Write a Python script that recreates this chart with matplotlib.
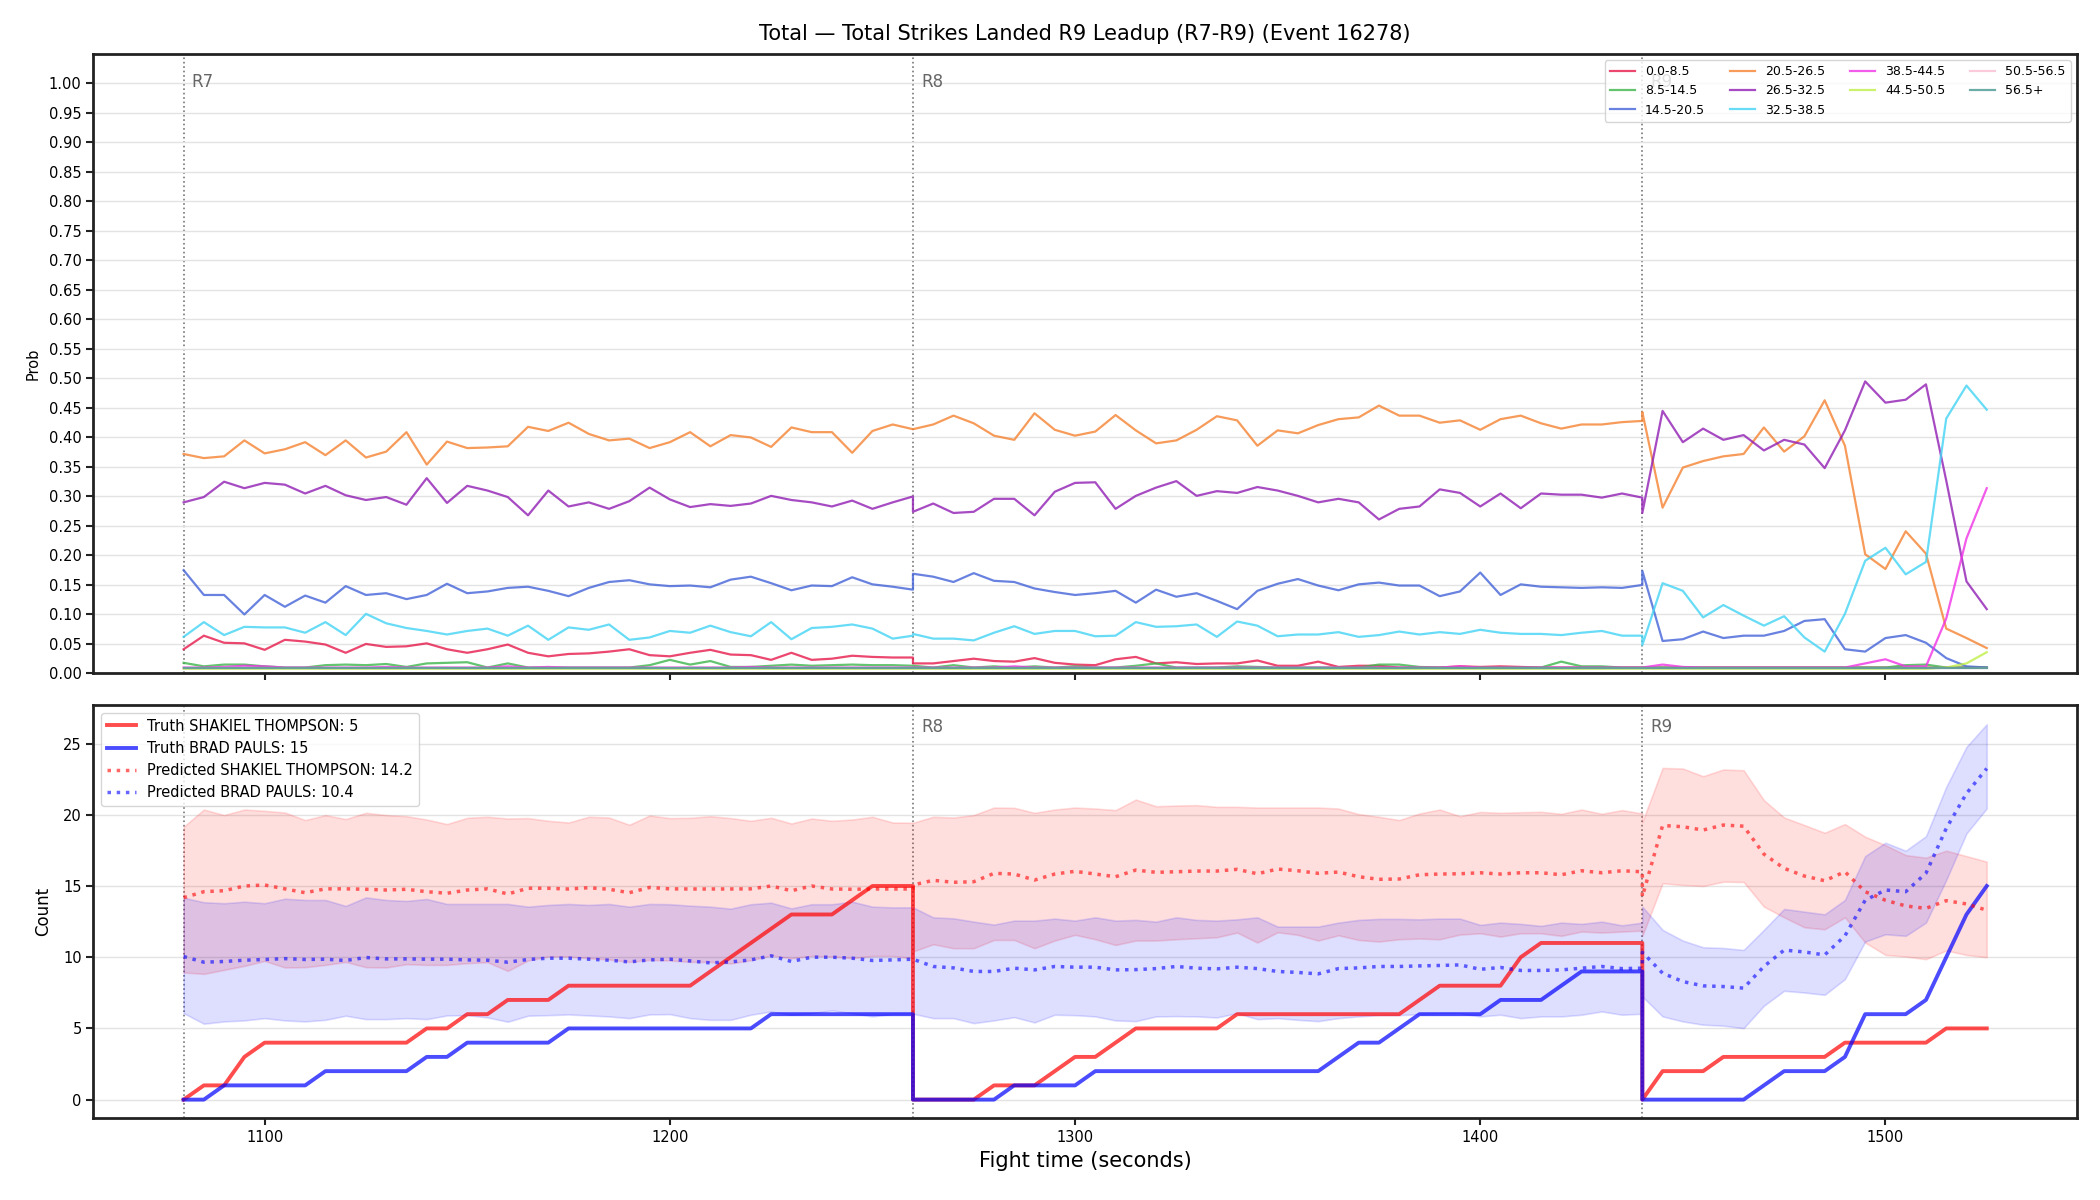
import numpy as np
import matplotlib
matplotlib.use("Agg")
import matplotlib.pyplot as plt

# ---------------- data ----------------
round_starts = [1080, 1260, 1440]
round_names = ["R7", "R8", "R9"]
step = 5
t_r7 = np.arange(1080, 1260 + 1, step)
t_r8 = np.arange(1260, 1440 + 1, step)
t_r9 = np.arange(1440, 1525 + 1, step)
times = np.concatenate([t_r7, t_r8, t_r9])

bucket_labels = ["0.0-8.5", "8.5-14.5", "14.5-20.5", "20.5-26.5", "26.5-32.5",
                 "32.5-38.5", "38.5-44.5", "44.5-50.5", "50.5-56.5", "56.5+"]
bucket_colors = ["#e6194b", "#3cb44b", "#4363d8", "#f58231", "#911eb4",
                 "#42d4f4", "#f032e6", "#bfef45", "#fabed4", "#469990"]

p_0_8 = [.041, .064, .052, .051, .040, .057, .054, .049, .035, .050,
         .045, .046, .051, .041, .035, .041, .049, .035, .029, .033,
         .034, .037, .041, .031, .029, .035, .040, .032, .031, .023,
         .035, .023, .025, .030, .028, .027, .027,
         .017, .017, .021, .025, .021, .020, .026, .018, .015, .014,
         .024, .028, .017, .019, .016, .017, .017, .022, .013, .013,
         .020, .011, .013, .013, .010, .010, .010, .012, .011, .012,
         .011, .010, .010, .010, .010, .010, .010,
         .010, .010, .010, .010, .010, .010, .010, .010, .010, .010,
         .010, .010, .010, .010, .010, .010, .010, .010]
p_8_14 = [.018, .012, .015, .015, .012, .010, .010, .014, .015, .014,
          .016, .011, .017, .018, .019, .010, .017, .010, .010, .010,
          .010, .010, .010, .014, .023, .015, .021, .011, .011, .013,
          .015, .013, .014, .015, .014, .014, .013,
          .013, .010, .014, .010, .012, .010, .012, .010, .012, .010,
          .010, .013, .017, .010, .010, .010, .012, .011, .010, .010,
          .010, .010, .010, .015, .015, .011, .010, .010, .010, .010,
          .010, .010, .020, .012, .012, .010, .010,
          .010, .010, .010, .010, .010, .010, .010, .010, .010, .010,
          .010, .010, .010, .014, .015, .010, .010, .010]
p_14_20 = [.175, .133, .133, .100, .133, .113, .132, .120, .148, .133,
           .136, .126, .133, .152, .136, .139, .145, .147, .140, .131,
           .145, .155, .158, .151, .148, .149, .146, .159, .164, .153,
           .141, .149, .148, .163, .151, .147, .142,
           .169, .164, .155, .170, .157, .155, .144, .138, .133, .136,
           .140, .120, .142, .130, .136, .123, .109, .140, .152, .160,
           .149, .141, .151, .154, .149, .149, .131, .139, .171, .133,
           .151, .147, .146, .145, .146, .145, .150,
           .174, .055, .058, .071, .060, .064, .064, .072, .089, .092,
           .041, .037, .060, .065, .052, .026, .012, .010]
p_20_26 = [.372, .365, .368, .395, .373, .380, .392, .370, .395, .366,
           .376, .409, .354, .393, .382, .383, .385, .418, .411, .425,
           .406, .395, .398, .382, .392, .409, .385, .404, .400, .384,
           .417, .409, .409, .374, .411, .422, .414,
           .414, .422, .437, .424, .403, .396, .441, .413, .403, .410,
           .438, .412, .390, .395, .413, .436, .429, .386, .412, .407,
           .421, .431, .434, .454, .437, .437, .425, .429, .413, .431,
           .437, .424, .415, .422, .422, .426, .428,
           .443, .281, .349, .360, .368, .372, .417, .376, .402, .463,
           .386, .202, .177, .241, .203, .076, .060, .043]
p_26_32 = [.290, .299, .325, .314, .323, .320, .305, .318, .302, .294,
           .299, .286, .331, .289, .318, .310, .299, .268, .310, .283,
           .290, .279, .292, .315, .295, .282, .287, .284, .288, .301,
           .294, .290, .283, .293, .279, .290, .300,
           .274, .288, .272, .274, .296, .296, .268, .308, .323, .324,
           .279, .301, .315, .326, .301, .309, .306, .316, .310, .301,
           .290, .296, .290, .261, .279, .283, .312, .306, .283, .305,
           .280, .305, .303, .303, .298, .305, .298,
           .272, .445, .392, .415, .396, .404, .378, .396, .388, .348,
           .412, .495, .459, .464, .490, .327, .156, .109]
p_32_38 = [.062, .087, .065, .079, .078, .078, .069, .087, .065, .101,
           .085, .077, .072, .066, .072, .076, .064, .081, .057, .078,
           .074, .083, .057, .061, .072, .069, .081, .070, .063, .087,
           .058, .077, .079, .083, .076, .059, .064,
           .067, .059, .059, .056, .069, .080, .067, .072, .072, .063,
           .064, .087, .079, .080, .083, .062, .088, .081, .063, .066,
           .066, .070, .062, .065, .071, .066, .070, .067, .074, .069,
           .067, .067, .065, .069, .072, .064, .064,
           .048, .153, .140, .095, .116, .098, .081, .097, .061, .037,
           .101, .191, .213, .168, .189, .432, .488, .447]
p_38_44 = [.010, .010, .011, .013, .012, .010, .010, .010, .010, .010,
           .011, .010, .010, .010, .010, .010, .012, .010, .011, .010,
           .010, .010, .010, .010, .010, .010, .010, .010, .011, .010,
           .010, .010, .010, .010, .010, .010, .010,
           .010, .010, .010, .010, .010, .012, .010, .010, .010, .010,
           .010, .010, .010, .010, .010, .010, .010, .010, .010, .010,
           .010, .010, .010, .010, .010, .010, .010, .012, .010, .010,
           .010, .010, .010, .010, .010, .010, .010,
           .010, .015, .011, .010, .010, .010, .010, .010, .010, .010,
           .010, .017, .024, .012, .012, .093, .229, .314]
p_44_50 = [.008] * 74 + [.008, .008, .008, .008, .008, .008, .008, .008, .008, .008,
                         .008, .008, .008, .008, .008, .010, .017, .036]
p_50_56 = [.009] * 92
p_56p = [.010] * 92
bucket_probs = [p_0_8, p_8_14, p_14_20, p_20_26, p_26_32,
                p_32_38, p_38_44, p_44_50, p_50_56, p_56p]

name_a = "SHAKIEL THOMPSON"
name_b = "BRAD PAULS"
truth_a_final = 5
truth_b_final = 15
pred_a_final = 14.2
pred_b_final = 10.4

truth_a = [0, 1, 1, 3, 4, 4, 4, 4, 4, 4, 4, 4, 5, 5, 6, 6, 7, 7, 7, 8,
           8, 8, 8, 8, 8, 8, 9, 10, 11, 12, 13, 13, 13, 14, 15, 15, 15,
           0, 0, 0, 0, 1, 1, 1, 2, 3, 3, 4, 5, 5, 5, 5, 5, 6, 6, 6, 6,
           6, 6, 6, 6, 6, 7, 8, 8, 8, 8, 10, 11, 11, 11, 11, 11, 11,
           0, 2, 2, 2, 3, 3, 3, 3, 3, 3, 4, 4, 4, 4, 4, 5, 5, 5]
truth_b = [0, 0, 1, 1, 1, 1, 1, 2, 2, 2, 2, 2, 3, 3, 4, 4, 4, 4, 4, 5,
           5, 5, 5, 5, 5, 5, 5, 5, 5, 6, 6, 6, 6, 6, 6, 6, 6,
           0, 0, 0, 0, 0, 1, 1, 1, 1, 2, 2, 2, 2, 2, 2, 2, 2, 2, 2, 2,
           2, 3, 4, 4, 5, 6, 6, 6, 6, 7, 7, 7, 8, 9, 9, 9, 9,
           0, 0, 0, 0, 0, 0, 1, 2, 2, 2, 3, 6, 6, 6, 7, 10, 13, 15]

pred_a = [14.18, 14.6, 14.67, 15.0, 15.07, 14.8, 14.53, 14.8, 14.8, 14.77,
          14.72, 14.77, 14.6, 14.49, 14.72, 14.8, 14.44, 14.84, 14.84, 14.79,
          14.88, 14.77, 14.53, 14.9, 14.8, 14.79, 14.79, 14.79, 14.8, 15.0,
          14.67, 15.0, 14.79, 14.77, 14.79, 14.79, 14.79,
          15.07, 15.4, 15.26, 15.3, 15.89, 15.84, 15.42, 15.84, 16.03, 15.84,
          15.65, 16.12, 15.96, 16.0, 16.05, 16.05, 16.17, 15.86, 16.19, 16.07,
          15.89, 15.98, 15.65, 15.47, 15.49, 15.79, 15.84, 15.86, 15.93, 15.84,
          15.93, 15.93, 15.79, 16.07, 15.93, 16.07, 16.0,
          14.25, 19.25, 19.16, 18.93, 19.28, 19.2, 17.24, 16.24, 15.7, 15.37,
          16.0, 14.6, 14.0, 13.6, 13.43, 13.97, 13.74, 13.3]
pred_b = [10.05, 9.65, 9.7, 9.79, 9.84, 9.9, 9.84, 9.86, 9.77, 9.98,
          9.88, 9.88, 9.86, 9.86, 9.81, 9.79, 9.65, 9.84, 9.93, 9.93,
          9.86, 9.79, 9.67, 9.81, 9.86, 9.74, 9.6, 9.67, 9.81, 10.1,
          9.7, 10.0, 10.0, 9.93, 9.77, 9.81, 9.86,
          9.86, 9.35, 9.25, 9.0, 9.0, 9.23, 9.11, 9.35, 9.3, 9.3,
          9.11, 9.13, 9.2, 9.35, 9.23, 9.18, 9.3, 9.2, 9.0, 8.93,
          8.83, 9.2, 9.25, 9.35, 9.35, 9.39, 9.42, 9.46, 9.15, 9.28,
          9.07, 9.07, 9.11, 9.23, 9.35, 9.2, 9.23,
          10.35, 8.88, 8.29, 7.99, 7.94, 7.83, 9.35, 10.5, 10.37, 10.16,
          11.5, 14.0, 14.72, 14.6, 15.9, 19.04, 21.5, 23.25]
band_a_hi = [19.16, 20.37, 19.98, 20.37, 20.28, 20.16, 19.63, 19.98, 19.7, 20.14,
             19.98, 19.9, 19.67, 19.35, 19.79, 19.86, 19.74, 19.77, 19.58, 19.46,
             19.86, 19.81, 19.3, 19.95, 19.77, 19.79, 19.9, 19.77, 19.58, 19.79,
             19.39, 19.74, 19.58, 19.67, 19.86, 19.46, 19.44,
             19.44, 19.86, 19.81, 19.98, 20.51, 20.49, 20.14, 20.37, 20.51, 20.44,
             20.33, 21.07, 20.6, 20.65, 20.68, 20.56, 20.56, 20.51, 20.51, 20.51,
             20.51, 20.44, 20.05, 19.86, 19.63, 20.09, 20.37, 19.9, 20.2, 20.14,
             20.18, 20.21, 20.07, 20.37, 20.07, 20.33, 20.09,
             19.5, 23.29, 23.25, 22.71, 23.18, 23.13, 21.03, 19.81, 19.28, 18.74,
             19.35, 18.46, 17.87, 17.17, 16.99, 17.48, 17.1, 16.71]
band_a_lo = [8.93, 8.83, 9.11, 9.39, 9.74, 9.28, 9.3, 9.46, 9.67, 9.3,
             9.28, 9.51, 9.46, 9.46, 9.58, 9.65, 9.04, 9.77, 10.05, 10.05,
             9.93, 9.84, 9.67, 9.81, 9.77, 9.67, 9.67, 9.56, 9.79, 10.12,
             9.93, 10.09, 10.05, 9.93, 10.09, 10.09, 9.93,
             10.4, 10.91, 10.63, 10.63, 11.21, 11.21, 10.63, 11.17, 11.57, 11.26,
             10.86, 11.17, 11.17, 11.26, 11.33, 11.4, 11.73, 11.03, 11.75, 11.57,
             11.17, 11.54, 11.21, 11.1, 11.26, 11.31, 11.26, 11.59, 11.68, 11.45,
             11.68, 11.68, 11.5, 11.8, 11.73, 11.8, 11.87,
             11.5, 15.19, 15.07, 15.0, 15.3, 15.28, 13.55, 12.8, 12.1, 11.96,
             12.8, 11.03, 10.16, 10.05, 9.86, 10.47, 10.16, 10.0]
band_b_hi = [14.18, 13.86, 13.79, 13.9, 13.79, 14.11, 14.02, 14.02, 13.6, 14.2,
             14.02, 13.95, 14.09, 13.74, 13.74, 13.74, 13.74, 13.55, 13.67, 13.74,
             13.67, 13.74, 13.55, 13.74, 13.72, 13.62, 13.55, 13.41, 13.72, 13.83,
             13.43, 13.72, 13.72, 13.9, 13.55, 13.5, 13.5,
             13.5, 12.8, 12.73, 12.5, 12.29, 12.57, 12.57, 12.71, 12.57, 12.8,
             12.57, 12.62, 12.5, 12.8, 12.62, 12.57, 12.66, 12.8, 12.15, 12.15,
             12.15, 12.43, 12.62, 12.69, 12.69, 12.66, 12.71, 12.71, 12.27, 12.43,
             12.34, 12.2, 12.43, 12.34, 12.5, 12.24, 12.43,
             13.55, 11.92, 11.17, 10.7, 10.65, 10.51, 11.92, 13.39, 13.2, 13.01,
             14.02, 17.1, 18.04, 17.48, 18.5, 21.96, 24.77, 26.36]
band_b_lo = [6.07, 5.33, 5.49, 5.56, 5.72, 5.56, 5.49, 5.6, 5.89, 5.65,
             5.65, 5.72, 5.65, 5.91, 5.93, 5.77, 5.47, 5.89, 5.93, 5.98,
             5.91, 5.84, 5.72, 5.98, 6.0, 5.72, 5.6, 5.6, 5.96, 6.19,
             5.96, 6.07, 6.26, 6.07, 5.84, 6.03, 6.03,
             6.03, 5.72, 5.72, 5.37, 5.56, 5.79, 5.42, 5.96, 5.93, 5.84,
             5.56, 5.51, 5.84, 5.86, 5.84, 5.77, 6.07, 5.65, 5.72, 5.6,
             5.51, 5.72, 5.84, 5.93, 5.93, 6.0, 6.07, 6.07, 5.84, 5.96,
             5.72, 5.84, 5.84, 5.96, 6.19, 5.96, 6.03,
             7.24, 5.84, 5.49, 5.26, 5.19, 5.02, 6.59, 7.64, 7.52, 7.36,
             8.46, 11.1, 11.61, 11.5, 12.43, 15.42, 18.69, 20.44]

title = "Total \u2014 Total Strikes Landed R9 Leadup (R7-R9) (Event 16278)"

# ---------------- figure ----------------
plt.rcParams['font.family'] = ['DejaVu Sans']
fig = plt.figure(figsize=(21, 12), dpi=100)
gs = fig.add_gridspec(2, 1, height_ratios=[3, 2], left=0.0445, right=0.989,
                      top=0.955, bottom=0.068, hspace=0.062)
ax1 = fig.add_subplot(gs[0])
ax2 = fig.add_subplot(gs[1], sharex=ax1)

spine_col = "#222222"
for ax in (ax1, ax2):
    for s in ax.spines.values():
        s.set_color(spine_col)
        s.set_linewidth(2.0)
    ax.grid(axis='y', color='#e3e3e3', linewidth=1.0)
    ax.set_axisbelow(True)
    ax.tick_params(axis='both', labelsize=10.5, length=5, width=1.5, color=spine_col)

# top panel
for lab, col, vals in zip(bucket_labels, bucket_colors, bucket_probs):
    ax1.plot(times, vals, color=col, lw=1.6, alpha=0.8, label=lab)
ax1.set_ylim(0, 1.05)
ax1.set_yticks(np.arange(0, 1.0001, 0.05))
ax1.set_ylabel("Prob", fontsize=10.5, labelpad=6)
ax1.set_title(title, fontsize=15, pad=10)
plt.setp(ax1.get_xticklabels(), visible=False)
leg1 = ax1.legend(loc='upper right', ncol=4, fontsize=9, framealpha=0.8,
                  edgecolor='#cccccc', handlelength=2.0, columnspacing=2.0)

for rs, rn in zip(round_starts, round_names):
    ax1.axvline(rs, color='#777777', ls=':', lw=1.2, zorder=0.5)
    ax1.text(rs + 2, 0.97, rn, transform=ax1.get_xaxis_transform(),
             ha='left', va='top', fontsize=12, color='#666666', zorder=1)
leg1.set_zorder(5)

# bottom panel
red = "#ff0000"
blue = "#0000ff"
ax2.fill_between(times, band_a_lo, band_a_hi, color=red, alpha=0.13, lw=1.2)
ax2.fill_between(times, band_b_lo, band_b_hi, color=blue, alpha=0.13, lw=1.2)
ax2.plot(times, truth_a, color=red, lw=2.8, alpha=0.7,
         label=f"Truth {name_a}: {truth_a_final}")
ax2.plot(times, truth_b, color=blue, lw=2.8, alpha=0.7,
         label=f"Truth {name_b}: {truth_b_final}")
ax2.plot(times, pred_a, color=red, lw=2.5, ls=':', alpha=0.6,
         label=f"Predicted {name_a}: {pred_a_final}")
ax2.plot(times, pred_b, color=blue, lw=2.5, ls=':', alpha=0.6,
         label=f"Predicted {name_b}: {pred_b_final}")
for rs, rn in zip(round_starts, round_names):
    ax2.axvline(rs, color='#777777', ls=':', lw=1.2, zorder=0.5)
    if rn != "R7":
        ax2.text(rs + 2, 0.97, rn, transform=ax2.get_xaxis_transform(),
                 ha='left', va='top', fontsize=12, color='#666666')
ax2.set_yticks([0, 5, 10, 15, 20, 25])
ax2.set_ylabel("Count", fontsize=12, labelpad=8)
ax2.set_xlabel("Fight time (seconds)", fontsize=15)
ax2.legend(loc='upper left', fontsize=10.5, framealpha=0.8, edgecolor='#cccccc')
ax2.set_xticks([1100, 1200, 1300, 1400, 1500])

fig.savefig("out.png", dpi=100)
